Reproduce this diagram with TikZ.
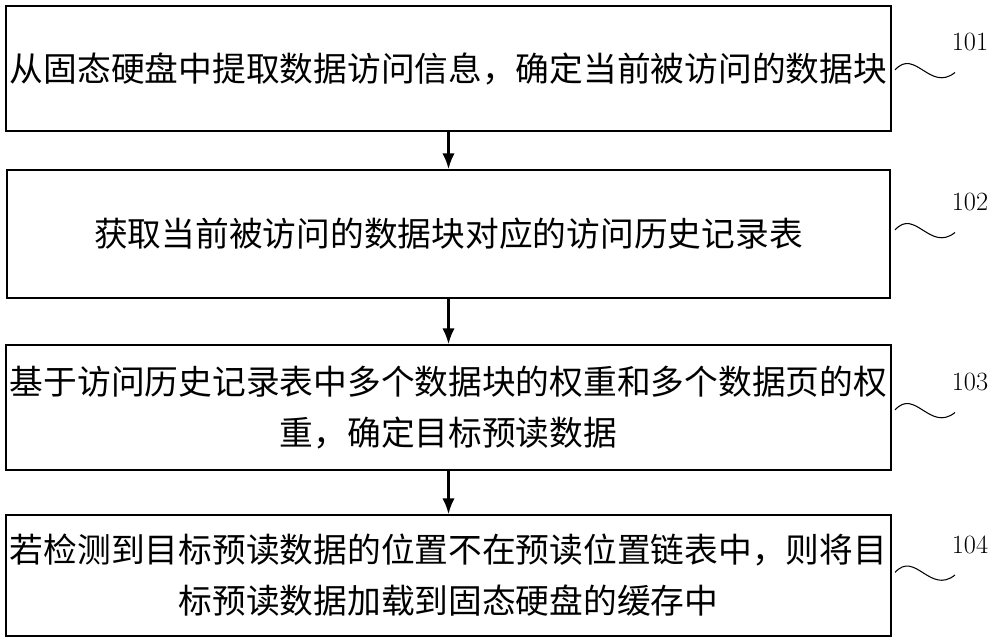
\documentclass[tikz,border=0pt]{standalone}
\usepackage{fontspec}
\usetikzlibrary{arrows.meta}
\newfontfamily\cjk{Noto Sans CJK SC}
\begin{document}
\begin{tikzpicture}[>=latex,thick]
\tikzset{stepbox/.style={draw,line width=1pt,minimum width=17.66cm,minimum height=2.5cm,align=center,font=\cjk\fontsize{19.2pt}{29pt}\selectfont,inner sep=2pt}}
\useasboundingbox (0,0) rectangle (20,-12.8);
\node[stepbox] (s1) at (8.97,-1.37) {从固态硬盘中提取数据访问信息，确定当前被访问的数据块};
\node[stepbox,minimum height=2.56cm] (s2) at (8.97,-4.68) {获取当前被访问的数据块对应的访问历史记录表};
\node[stepbox] (s3) at (8.97,-8.15) {基于访问历史记录表中多个数据块的权重和多个数据页的权\\重，确定目标预读数据};
\node[stepbox,minimum height=2.42cm] (s4) at (8.97,-11.51) {若检测到目标预读数据的位置不在预读位置链表中，则将目\\标预读数据加载到固态硬盘的缓存中};
\draw[-{Latex[length=9pt,width=7pt]},line width=1.2pt] (s1) -- (s2);
\draw[-{Latex[length=9pt,width=7pt]},line width=1.2pt] (s2) -- (s3);
\draw[-{Latex[length=9pt,width=7pt]},line width=1.2pt] (s3) -- (s4);
% labels with wavy leaders
\foreach \n/\y in {101/-1.4,102/-4.6,103/-8.2,104/-11.45}{
  \draw[line width=0.6pt] (17.9,\y) .. controls (18.3,\y+0.45) and (18.6,\y-0.45) .. (19.1,\y-0.05);
  \node[font=\fontsize{15pt}{15pt}\selectfont] (l\n) at (19.4,\y+0.55) {\n};
}
\end{tikzpicture}
\end{document}
